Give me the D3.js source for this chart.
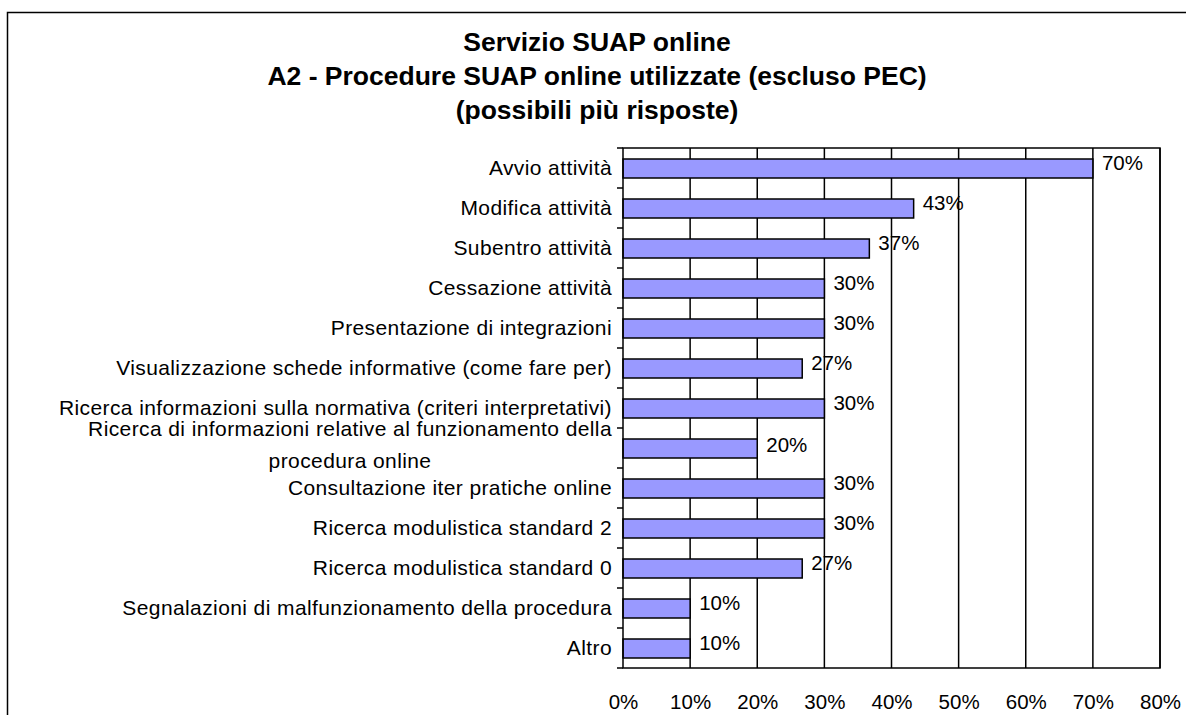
<!DOCTYPE html>
<html>
<head>
<meta charset="utf-8">
<script src="https://cdn.jsdelivr.net/npm/d3@7"></script>
<style>
body{margin:0;background:#fff;}
svg{display:block;font-family:"Liberation Sans",Arial,sans-serif;}
</style>
</head>
<body>
<svg id="chart" width="1186" height="715"></svg>
<script>
const titleLines = ["Servizio SUAP online","A2 - Procedure SUAP online utilizzate (escluso PEC)","(possibili più risposte)"];
const categories = [
  ["Avvio attività"],
  ["Modifica attività"],
  ["Subentro attività"],
  ["Cessazione attività"],
  ["Presentazione di integrazioni"],
  ["Visualizzazione schede informative (come fare per)"],
  ["Ricerca informazioni sulla normativa (criteri interpretativi)"],
  ["Ricerca di informazioni relative al funzionamento della","procedura online"],
  ["Consultazione iter pratiche online"],
  ["Ricerca modulistica standard 2"],
  ["Ricerca modulistica standard 0"],
  ["Segnalazioni di malfunzionamento della procedura"],
  ["Altro"]
];
const values = [70, 43.3, 36.7, 30, 30, 26.7, 30, 20, 30, 30, 26.7, 10, 10];
const valueLabels = ["70%","43%","37%","30%","30%","27%","30%","20%","30%","30%","27%","10%","10%"];
const xTicks = [0,10,20,30,40,50,60,70,80];

const svg = d3.select("#chart");
const m = {left:623, right:1160, top:148, bottom:668};
const FS = 20.5;
const LFS = 21;

// outer frame
svg.append("rect").attr("x",7.5).attr("y",12.5).attr("width",1200).attr("height",720)
  .attr("fill","none").attr("stroke","#000").attr("stroke-width",1.5);

// title
svg.append("g").selectAll("text").data(titleLines).join("text")
  .attr("x",597).attr("y",(d,i)=>51+i*34)
  .attr("text-anchor","middle").attr("font-weight","bold").attr("font-size",26.5)
  .text(d=>d);

const x = d3.scaleLinear().domain([0,80]).range([m.left,m.right]);
const y = d3.scaleBand().domain(d3.range(categories.length)).range([m.top,m.bottom]).paddingInner(0).paddingOuter(0);

// vertical gridlines
svg.append("g").selectAll("line").data(xTicks.slice(1)).join("line")
  .attr("x1",d=>x(d)).attr("x2",d=>x(d)).attr("y1",m.top).attr("y2",m.bottom)
  .attr("stroke","#000").attr("stroke-width",1.5);

// bars
const bh = 19;
svg.append("g").selectAll("rect").data(values).join("rect")
  .attr("x",x(0)).attr("y",(d,i)=>y(i)+y.bandwidth()/2-bh/2+0.5)
  .attr("width",d=>x(d)-x(0)).attr("height",bh)
  .attr("fill","#9999FF").attr("stroke","#000").attr("stroke-width",1.5);

// plot border
svg.append("rect").attr("x",m.left).attr("y",m.top).attr("width",m.right-m.left).attr("height",m.bottom-m.top)
  .attr("fill","none").attr("stroke","#000").attr("stroke-width",1.5);

// x axis labels
const xAxis = d3.axisBottom(x).tickValues(xTicks).tickFormat(d=>d+"%").tickSize(0).tickPadding(26);
const gx = svg.append("g").attr("transform",`translate(0,${m.bottom})`).call(xAxis);
gx.select(".domain").remove();
gx.selectAll("text").attr("font-size",FS).attr("font-family","Liberation Sans, Arial, sans-serif").attr("fill","#000");

// y ticks at band boundaries
svg.append("g").selectAll("line").data(d3.range(categories.length+1)).join("line")
  .attr("x1",m.left-6).attr("x2",m.left).attr("y1",i=>m.top+i*y.step()).attr("y2",i=>m.top+i*y.step())
  .attr("stroke","#000").attr("stroke-width",1.5);

// category labels
const labelX = 612;
categories.forEach((lines,i)=>{
  const cy = y(i)+y.bandwidth()/2;
  if(lines.length===1){
    svg.append("text").attr("x",labelX).attr("y",cy+7).attr("text-anchor","end")
      .attr("font-size",LFS).attr("letter-spacing",0.4).text(lines[0]);
  } else {
    const t1 = svg.append("text").attr("x",labelX).attr("y",cy-12).attr("text-anchor","end")
      .attr("font-size",LFS).attr("letter-spacing",0.4).text(lines[0]);
    const w = t1.node().getComputedTextLength();
    svg.append("text").attr("x",labelX-w/2).attr("y",cy+20).attr("text-anchor","middle")
      .attr("font-size",LFS).attr("letter-spacing",0.4).text(lines[1]);
  }
});

// value labels
svg.append("g").selectAll("text").data(values).join("text")
  .attr("x",d=>x(d)+9).attr("y",(d,i)=>y(i)+y.bandwidth()/2+(i===7?4:2))
  .attr("font-size",FS).text((d,i)=>valueLabels[i]);
</script>
</body>
</html>
